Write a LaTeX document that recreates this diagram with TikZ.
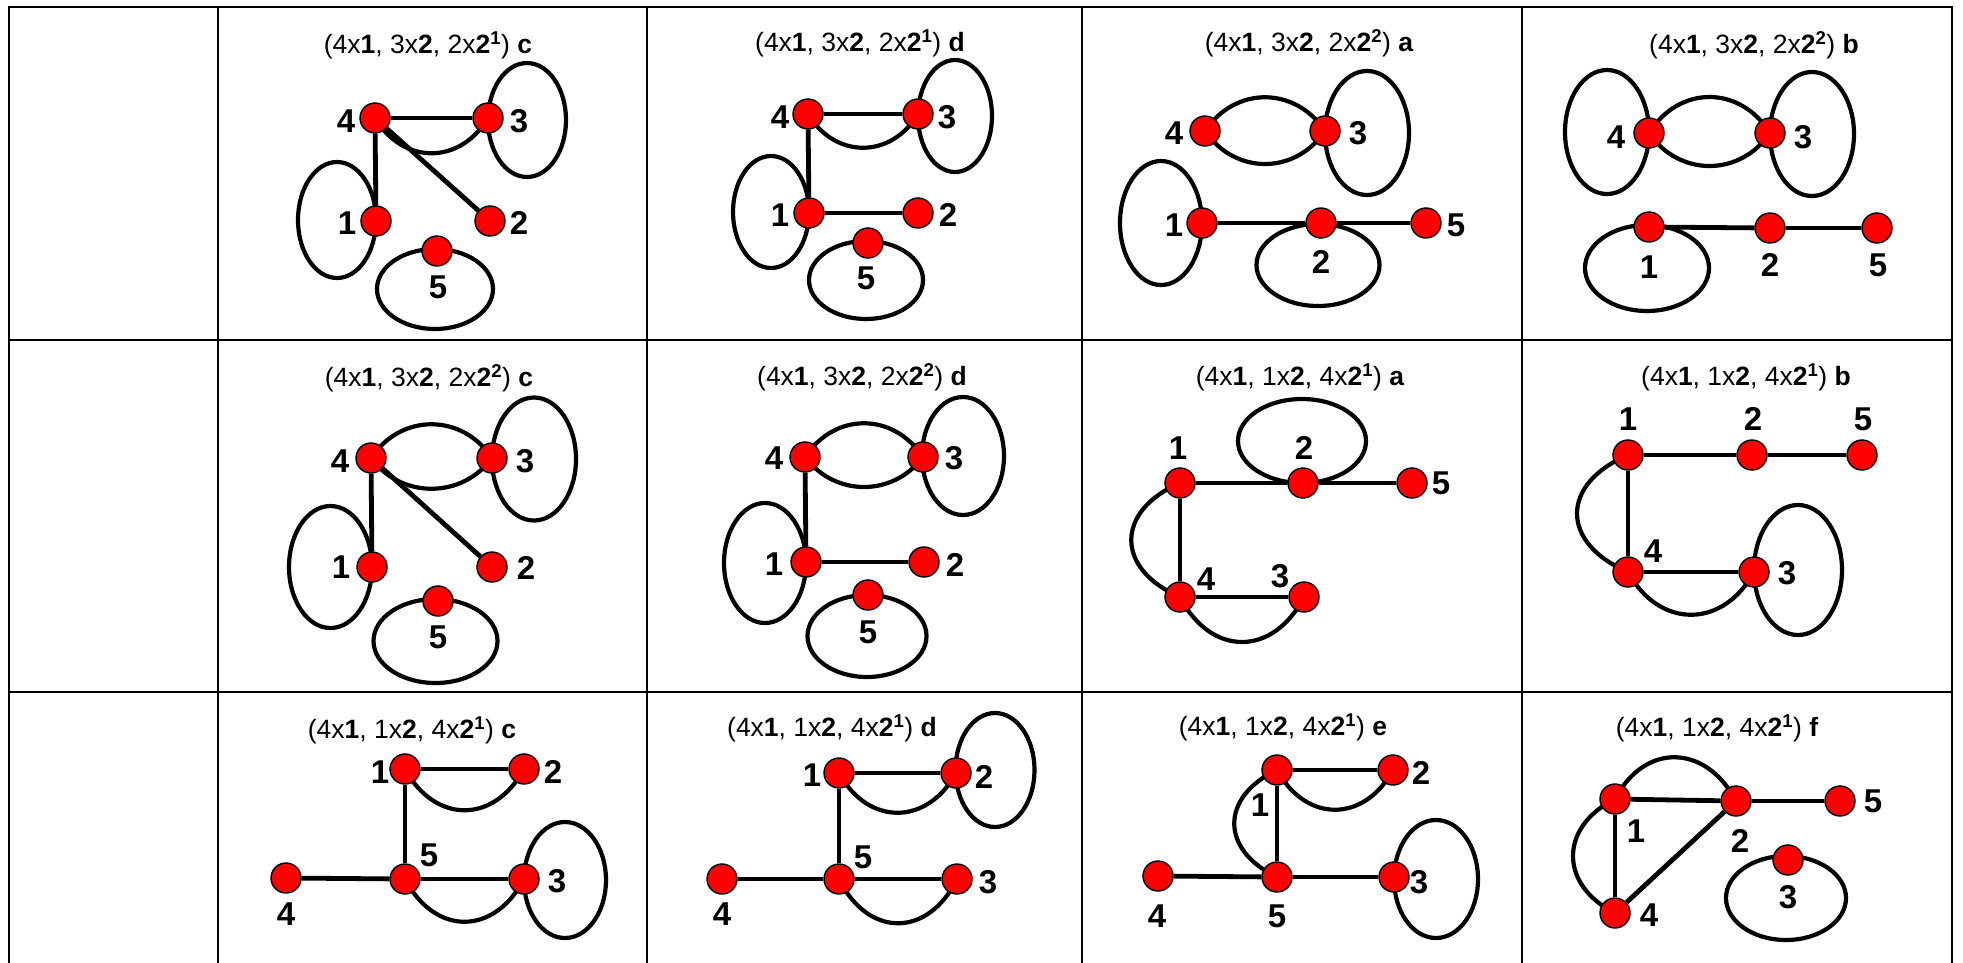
\documentclass[tikz,border=0pt]{standalone}
\usepackage{fontspec}
\setmainfont{Liberation Sans}
\pgfdeclarelayer{bg}
\pgfsetlayers{bg,main}
\tikzset{
  v/.style={circle, draw=black, line width=1.4pt, fill=red, minimum size=30pt, inner sep=0pt},
  lab/.style={font=\fontsize{33}{33}\selectfont\bfseries, inner sep=0pt},
  ttl/.style={font=\fontsize{26.5}{30}\selectfont, inner sep=0pt},
  ed/.style={line width=4.8pt},
  lp/.style={line width=4.2pt},
  grid/.style={line width=2.3pt, line cap=rect},
}
\newcommand\V[3]{\node[v] (#1) at (#2,#3) {};}
\newcommand\Lb[4]{\node[lab] (#1) at (#2,#3) {#4};}
\newcommand\Ttl[4]{(4x\textbf{1}, #1x\textbf{2}, #2x\textbf{2}\textsuperscript{\textbf{#3}}) \textbf{#4}}
\begin{document}
\begin{tikzpicture}[x=1pt,y=-1pt]
\useasboundingbox (0,0) rectangle (1963,962);
% table
\draw[grid] (9,7) -- (1952,7);
\draw[grid] (9,340) -- (1952,340);
\draw[grid] (9,692) -- (1952,692);
\foreach \x in {9,218,647,1082,1522,1952} \draw[grid] (\x,7) -- (\x,962);
% titles
\node[ttl] (tA) at (428,45) {\Ttl{3}{2}{1}{c}};
\node[ttl] (tB) at (860,43) {\Ttl{3}{2}{1}{d}};
\node[ttl] (tC) at (1309,43) {\Ttl{3}{2}{2}{a}};
\node[ttl] (tD) at (1754,45) {\Ttl{3}{2}{2}{b}};
\node[ttl] (tE) at (429,378) {\Ttl{3}{2}{2}{c}};
\node[ttl] (tF) at (862,377) {\Ttl{3}{2}{2}{d}};
\node[ttl] (tG) at (1300,377) {\Ttl{1}{4}{1}{a}};
\node[ttl] (tH) at (1746,377) {\Ttl{1}{4}{1}{b}};
\node[ttl] (tI) at (412,730) {\Ttl{1}{4}{1}{c}};
\node[ttl] (tJ) at (832,728) {\Ttl{1}{4}{1}{d}};
\node[ttl] (tK) at (1283,727) {\Ttl{1}{4}{1}{e}};
\node[ttl] (tL) at (1717,728) {\Ttl{1}{4}{1}{f}};
% ---------- cell A
\V{A4}{375}{118}\V{A3}{488}{118}\V{A1}{376}{221}\V{A2}{490}{221}\V{A5}{437}{251}
\Lb{lA4}{346}{121}{4}\Lb{lA3}{519}{121}{3}\Lb{lA1}{347}{223}{1}\Lb{lA2}{519}{223}{2}\Lb{lA5}{438}{287}{5}
% ---------- cell B
\V{B4}{808}{114}\V{B3}{918}{114}\V{B1}{809}{213}\V{B2}{918}{213}\V{B5}{868}{243}
\Lb{lB4}{780}{117}{4}\Lb{lB3}{947}{117}{3}\Lb{lB1}{780}{215}{1}\Lb{lB2}{948}{215}{2}\Lb{lB5}{866}{278}{5}
% ---------- cell C
\V{C4}{1205}{131}\V{C3}{1325}{131}\V{C1}{1202}{223}\V{C2}{1321}{223}\V{C5}{1426}{223}
\Lb{lC4}{1174}{133}{4}\Lb{lC3}{1358}{133}{3}\Lb{lC1}{1174}{225}{1}\Lb{lC2}{1321}{262}{2}\Lb{lC5}{1456}{225}{5}
% ---------- cell D
\V{D4}{1649}{133}\V{D3}{1770}{133}\V{D1}{1649}{227}\V{D2}{1770}{228}\V{D5}{1877}{228}
\Lb{lD4}{1616}{137}{4}\Lb{lD3}{1803}{137}{3}\Lb{lD1}{1649}{267}{1}\Lb{lD2}{1770}{265}{2}\Lb{lD5}{1878}{265}{5}
% ---------- cell E
\V{E4}{371}{458}\V{E3}{492}{458}\V{E1}{372}{567}\V{E2}{492}{567}\V{E5}{438}{601}
\Lb{lE4}{340}{461}{4}\Lb{lE3}{525}{461}{3}\Lb{lE1}{341}{567}{1}\Lb{lE2}{526}{568}{2}\Lb{lE5}{438}{637}{5}
% ---------- cell F
\V{F4}{805}{457}\V{F3}{923}{457}\V{F1}{806}{562}\V{F2}{924}{562}\V{F5}{868}{595}
\Lb{lF4}{774}{458}{4}\Lb{lF3}{954}{458}{3}\Lb{lF1}{774}{564}{1}\Lb{lF2}{955}{565}{2}\Lb{lF5}{868}{632}{5}
% ---------- cell G
\V{G1}{1180}{483}\V{G2}{1303}{483}\V{G5}{1412}{483}\V{G4}{1180}{597}\V{G3}{1304}{597}
\Lb{lG1}{1178}{448}{1}\Lb{lG2}{1304}{448}{2}\Lb{lG5}{1441}{483}{5}\Lb{lG4}{1206}{579}{4}\Lb{lG3}{1280}{576}{3}
% ---------- cell H
\V{H1}{1628}{455}\V{H2}{1752}{455}\V{H5}{1862}{455}\V{H4}{1628}{572}\V{H3}{1754}{572}
\Lb{lH1}{1628}{419}{1}\Lb{lH2}{1753}{419}{2}\Lb{lH5}{1863}{419}{5}\Lb{lH4}{1653}{551}{4}\Lb{lH3}{1787}{573}{3}
% ---------- cell I
\V{I1}{405}{769}\V{I2}{524}{769}\V{I5}{405}{879}\V{I4}{286}{878}\V{I3}{524}{879}
\Lb{lI1}{380}{772}{1}\Lb{lI2}{553}{772}{2}\Lb{lI5}{429}{855}{5}\Lb{lI4}{286}{914}{4}\Lb{lI3}{557}{881}{3}
% ---------- cell J
\V{J1}{839}{773}\V{J2}{956}{773}\V{J5}{839}{879}\V{J4}{722}{879}\V{J3}{957}{879}
\Lb{lJ1}{812}{775}{1}\Lb{lJ2}{984}{777}{2}\Lb{lJ5}{863}{857}{5}\Lb{lJ4}{722}{914}{4}\Lb{lJ3}{988}{882}{3}
% ---------- cell K
\V{K1}{1277}{770}\V{K2}{1393}{770}\V{K5}{1277}{877}\V{K4}{1158}{876}\V{K3}{1394}{877}
\Lb{lK2}{1421}{773}{2}\Lb{lK1}{1260}{805}{1}\Lb{lK3}{1419}{882}{3}\Lb{lK4}{1157}{916}{4}\Lb{lK5}{1277}{916}{5}
% ---------- cell L
\V{L1}{1615}{799}\V{L2}{1736}{801}\V{L5}{1840}{801}\V{L4}{1615}{913}\V{L3}{1788}{860}
\Lb{lL1}{1636}{831}{1}\Lb{lL2}{1740}{841}{2}\Lb{lL5}{1873}{801}{5}\Lb{lL4}{1649}{915}{4}\Lb{lL3}{1788}{897}{3}
\begin{pgfonlayer}{bg}
% A
\draw[lp] (A3.center) ++(39,2) ellipse [x radius=39, y radius=57];
\draw[lp] (A1.center) ++(-39,-1) ellipse [x radius=39, y radius=58];
\draw[lp] (A5.center) ++(-2,38) ellipse [x radius=58, y radius=40];
\draw[lp] (A4.center) .. controls +(28,47) and +(-28,47) .. (A3.center);
\draw[ed] (A4) -- (A3); \draw[ed] (A4) -- (A1); \draw[ed] (A4) -- (A2);
% B
\draw[lp] (B3.center) ++(37,2) ellipse [x radius=37, y radius=56];
\draw[lp] (B1.center) ++(-38,-1) ellipse [x radius=38, y radius=56];
\draw[lp] (B5.center) ++(-2,37) ellipse [x radius=57, y radius=39];
\draw[lp] (B4.center) .. controls +(27,45) and +(-27,45) .. (B3.center);
\draw[ed] (B4) -- (B3); \draw[ed] (B4) -- (B1); \draw[ed] (B1) -- (B2);
% C
\draw[lp] (C3.center) ++(42,2) ellipse [x radius=42, y radius=62];
\draw[lp] (C1.center) ++(-41,0) ellipse [x radius=41, y radius=62];
\draw[lp] (C2.center) ++(-3,42) ellipse [x radius=61.5, y radius=41];
\draw[lp] (C4.center) .. controls +(30,-45) and +(-30,-45) .. (C3.center);
\draw[lp] (C4.center) .. controls +(30,44) and +(-30,44) .. (C3.center);
\draw[ed] (C1) -- (C2); \draw[ed] (C2) -- (C5);
% D
\draw[lp] (D4.center) ++(-42,-1) ellipse [x radius=42, y radius=62];
\draw[lp] (D3.center) ++(42,1) ellipse [x radius=42, y radius=62];
\draw[lp] (D1.center) ++(-2,41) ellipse [x radius=62, y radius=43];
\draw[lp] (D4.center) .. controls +(30,-48) and +(-30,-48) .. (D3.center);
\draw[lp] (D4.center) .. controls +(30,44) and +(-30,44) .. (D3.center);
\draw[ed] (D1) -- (D2); \draw[ed] (D2) -- (D5);
% E
\draw[lp] (E3.center) ++(42,1) ellipse [x radius=42, y radius=61.5];
\draw[lp] (E1.center) ++(-41.5,0) ellipse [x radius=41.5, y radius=61];
\draw[lp] (E5.center) ++(-2.5,40) ellipse [x radius=62, y radius=42];
\draw[lp] (E4.center) .. controls +(30,-45) and +(-30,-45) .. (E3.center);
\draw[lp] (E4.center) .. controls +(30,41) and +(-30,41) .. (E3.center);
\draw[ed] (E4) -- (E1); \draw[ed] (E4) -- (E2);
% F
\draw[lp] (F3.center) ++(40,-1) ellipse [x radius=41, y radius=59];
\draw[lp] (F1.center) ++(-41,1) ellipse [x radius=41, y radius=60];
\draw[lp] (F5.center) ++(-1,41) ellipse [x radius=59.5, y radius=41];
\draw[lp] (F4.center) .. controls +(30,-45) and +(-30,-45) .. (F3.center);
\draw[lp] (F4.center) .. controls +(30,40) and +(-30,40) .. (F3.center);
\draw[ed] (F4) -- (F1); \draw[ed] (F1) -- (F2);
% G
\draw[lp] (G2.center) ++(-1,-42) ellipse [x radius=64, y radius=42];
\draw[lp] (G1.center) .. controls +(-65,28) and +(-65,-28) .. (G4.center);
\draw[lp] (G4.center) .. controls +(31,60) and +(-31,60) .. (G3.center);
\draw[ed] (G1) -- (G2); \draw[ed] (G2) -- (G5); \draw[ed] (G1) -- (G4); \draw[ed] (G4) -- (G3);
% H
\draw[lp] (H3.center) ++(44,-2) ellipse [x radius=44, y radius=65];
\draw[lp] (H1.center) .. controls +(-68,29) and +(-68,-29) .. (H4.center);
\draw[lp] (H4.center) .. controls +(31,57) and +(-31,57) .. (H3.center);
\draw[ed] (H1) -- (H2); \draw[ed] (H2) -- (H5); \draw[ed] (H1) -- (H4); \draw[ed] (H4) -- (H3);
% I
\draw[lp] (I3.center) ++(41,1) ellipse [x radius=41, y radius=58];
\draw[lp] (I1.center) .. controls +(30,55) and +(-30,55) .. (I2.center);
\draw[lp] (I5.center) .. controls +(30,57) and +(-30,57) .. (I3.center);
\draw[ed] (I1) -- (I2); \draw[ed] (I1) -- (I5); \draw[ed] (I4) -- (I5); \draw[ed] (I5) -- (I3);
% J
\draw[lp] (J2.center) ++(39,-3) ellipse [x radius=39.5, y radius=57];
\draw[lp] (J1.center) .. controls +(29,53) and +(-29,53) .. (J2.center);
\draw[lp] (J5.center) .. controls +(29,59) and +(-29,59) .. (J3.center);
\draw[ed] (J1) -- (J2); \draw[ed] (J1) -- (J5); \draw[ed] (J4) -- (J5); \draw[ed] (J5) -- (J3);
% K
\draw[lp] (K3.center) ++(42,2) ellipse [x radius=42, y radius=59];
\draw[lp] (K1.center) .. controls +(29,53) and +(-29,53) .. (K2.center);
\draw[lp] (K1.center) .. controls +(-57,27) and +(-57,-27) .. (K5.center);
\draw[ed] (K1) -- (K2); \draw[ed] (K1) -- (K5); \draw[ed] (K4) -- (K5); \draw[ed] (K5) -- (K3);
% L
\draw[lp] (L3.center) ++(-2,38) ellipse [x radius=60, y radius=42];
\draw[lp] (L1.center) .. controls +(30,-57) and +(-30,-57) .. (L2.center);
\draw[lp] (L1.center) .. controls +(-56,28) and +(-56,-28) .. (L4.center);
\draw[ed] (L1) -- (L2); \draw[ed] (L2) -- (L5); \draw[ed] (L1) -- (L4); \draw[ed] (L2) -- (L4);
\end{pgfonlayer}
\end{tikzpicture}
\end{document}
